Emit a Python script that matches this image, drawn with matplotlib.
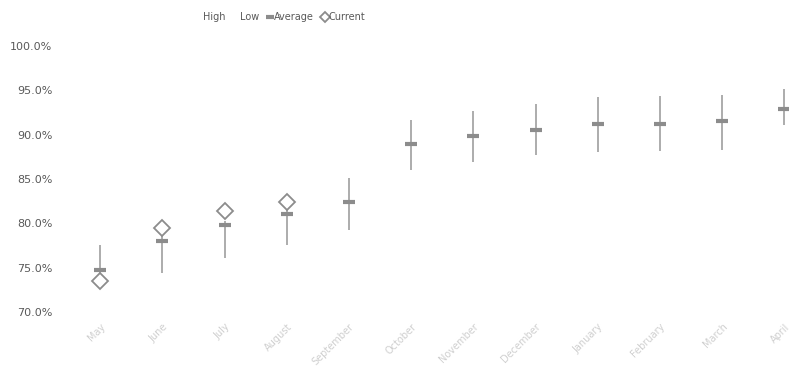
import numpy as np
import matplotlib
matplotlib.use("Agg")
import matplotlib.pyplot as plt
from matplotlib.lines import Line2D
from matplotlib.ticker import PercentFormatter

months = ["May", "June", "July", "August", "September", "October", "November",
          "December", "January", "February", "March", "April"]
high = [77.5, 80.4, 80.3, 81.9, 85.1, 91.6, 92.7, 93.5, 94.2, 94.4, 94.5, 95.1]
low = [74.4, 74.4, 76.1, 77.5, 79.2, 86.0, 86.9, 87.7, 88.0, 88.2, 88.3, 91.1]
average = [74.7, 78.0, 79.8, 81.0, 82.4, 89.0, 89.8, 90.5, 91.2, 91.2, 91.5, 92.9]
current = [73.5, 79.5, 81.4, 82.4, np.nan, np.nan, np.nan, np.nan, np.nan,
           np.nan, np.nan, np.nan]

plt.rcParams['font.family'] = ['DejaVu Sans']
text_col = "#595959"
line_col = "#a6a6a6"
mark_col = "#8c8c8c"

fig = plt.figure(figsize=(7.89, 3.79), dpi=100)
ax = fig.add_axes([0.0875, 0.1768, 0.946, 0.7018])

x = np.arange(len(months))
ax.vlines(x, low, high, color=line_col, lw=1.3, zorder=1)
ax.plot(x, average, linestyle="none", marker="_", ms=8, mew=3,
        color=mark_col, zorder=3)
ax.plot(x, current, linestyle="none", marker="D", ms=8.5, mfc="white",
        mec=mark_col, mew=1.3, zorder=4)

ax.set_xlim(-0.5, len(months) - 0.5)
ax.set_ylim(70, 100)
ax.set_yticks(np.arange(70, 101, 5))
ax.yaxis.set_major_formatter(PercentFormatter(decimals=1))
ax.set_xticks(x)
ax.set_xticklabels(months, rotation=45, ha="right", va="top",
                   rotation_mode="anchor", color="#cfcfcf", fontsize=7)
ax.tick_params(axis="y", labelsize=8, labelcolor=text_col, length=0, pad=12)
ax.tick_params(axis="x", length=0, pad=7)
for s in ax.spines.values():
    s.set_visible(False)

handles = [
    Line2D([], [], linestyle="none"),
    Line2D([], [], linestyle="none"),
    Line2D([], [], linestyle="none", marker="_", ms=6, mew=3, color=mark_col),
    Line2D([], [], linestyle="none", marker="D", ms=5, mfc="white",
           mec=mark_col, mew=1.3),
]
fig.legend(handles, ["High", "Low", "Average", "Current"], loc="center",
           bbox_to_anchor=(281 / 789, 1 - 17 / 379), ncol=4, frameon=False,
           fontsize=7, labelcolor=text_col, handlelength=0.6,
           handletextpad=0.1, columnspacing=0.8)

fig.savefig("out.png", dpi=100)
